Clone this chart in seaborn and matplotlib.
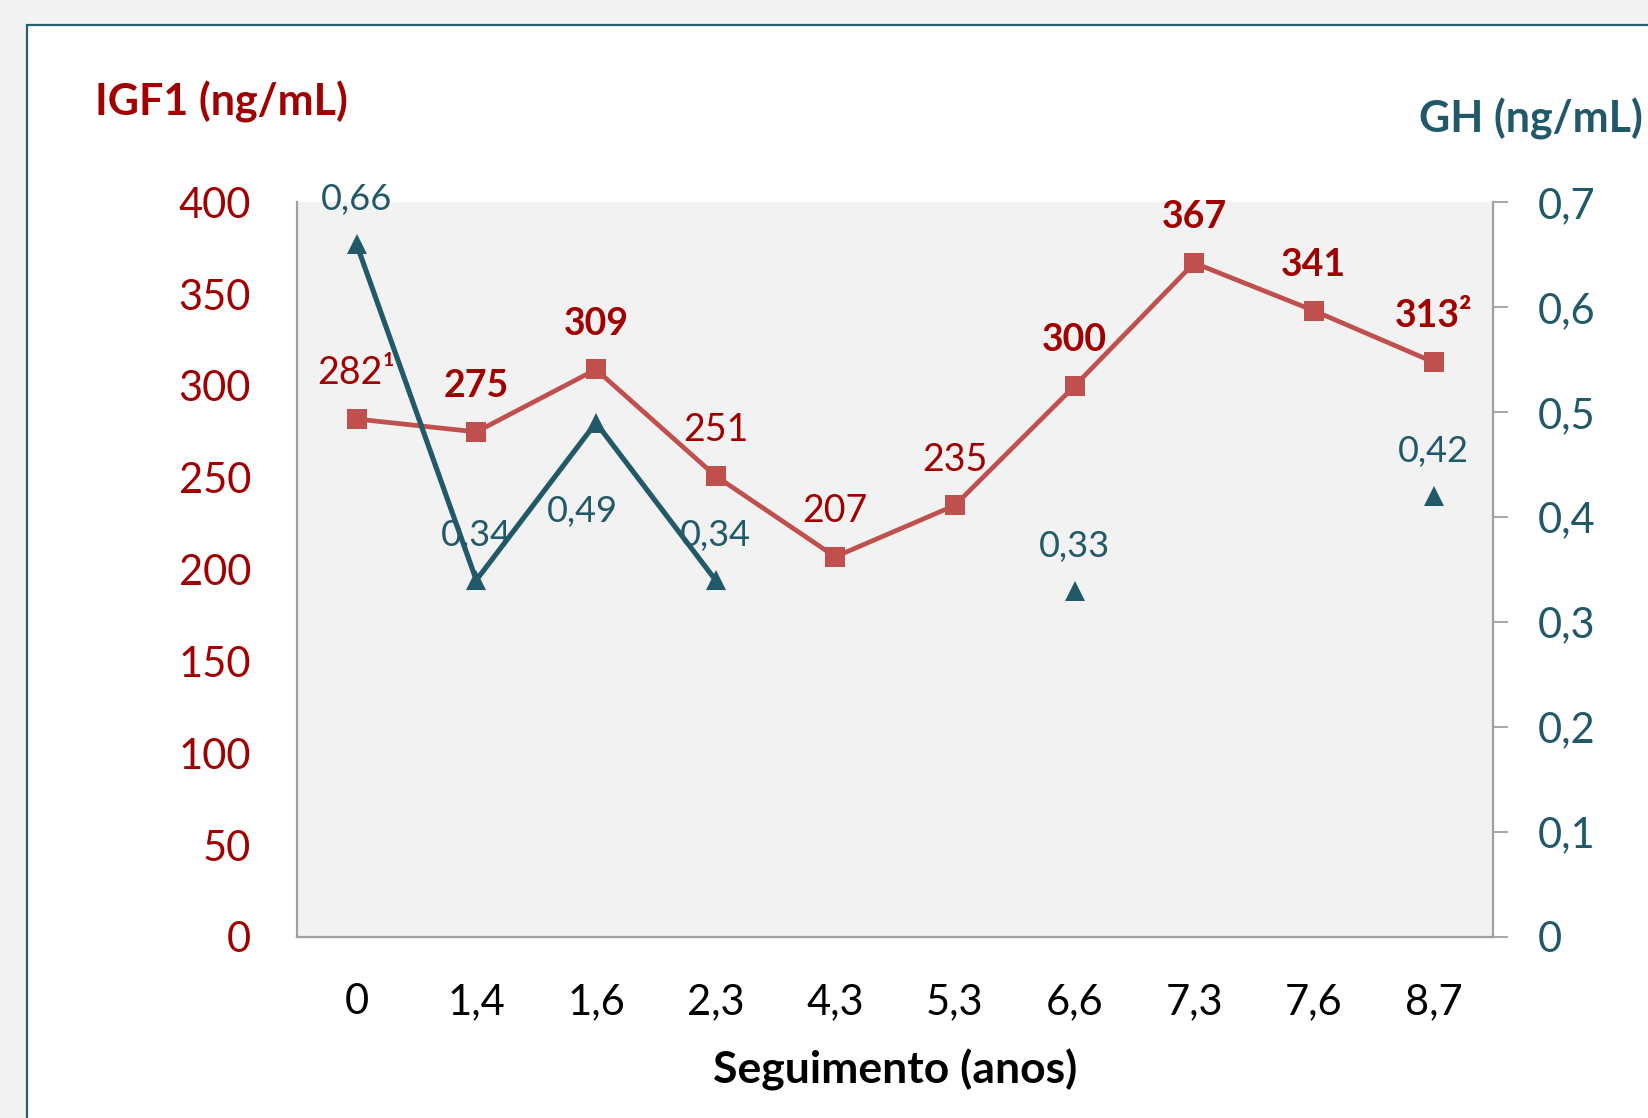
import numpy as np
import pandas as pd
import matplotlib
matplotlib.use('Agg')
import matplotlib.pyplot as plt
from matplotlib.patches import Rectangle
import seaborn as sns

# dados
seguimento = ['0', '1,4', '1,6', '2,3', '4,3', '5,3', '6,6', '7,3', '7,6', '8,7']
igf1 = [282, 275, 309, 251, 207, 235, 300, 367, 341, 313]
gh = [0.66, 0.34, 0.49, 0.34, np.nan, np.nan, 0.33, np.nan, np.nan, 0.42]
igf1_rotulos = ['282¹', '275', '309', '251', '207', '235', '300', '367', '341', '313²']
igf1_negrito = [False, True, True, False, False, False, True, True, True, True]
gh_rotulos = ['0,66', '0,34', '0,49', '0,34', '', '', '0,33', '', '', '0,42']
gh_abaixo = [False, False, True, False, False, False, False, False, False, False]
igf1_ticks = [0, 50, 100, 150, 200, 250, 300, 350, 400]
gh_ticks = [0, 0.1, 0.2, 0.3, 0.4, 0.5, 0.6, 0.7]
gh_tick_rotulos = ['0', '0,1', '0,2', '0,3', '0,4', '0,5', '0,6', '0,7']

VERMELHO = '#c0504d'
VERMELHO_TXT = '#a00000'
AZUL = '#215968'
CINZA = '#a0a0a0'

sns.set_style('white')
plt.rcParams['font.family'] = ['Lato', 'DejaVu Sans']

df = pd.DataFrame({'Seguimento': seguimento, 'IGF1': igf1, 'GH': gh})

fig = plt.figure(figsize=(16.49, 11.18), dpi=100, facecolor='#f2f2f2')
fig.patches.append(Rectangle((27 / 1649, -0.05), 1.1, 1 - 25 / 1118 + 0.05,
                             transform=fig.transFigure, facecolor='white',
                             edgecolor='#2a5f6e', linewidth=1.6, zorder=-10))

ax = fig.add_axes([0.180, 0.162, 0.7256, 0.657])
ax.set_facecolor('#f2f2f2')
ax2 = ax.twinx()

sns.lineplot(data=df, x='Seguimento', y='IGF1', ax=ax, sort=False, color=VERMELHO,
             linewidth=3.4, marker='s', markersize=14, markeredgewidth=0, zorder=3)
ax2.plot(df['Seguimento'], df['GH'], color=AZUL, linewidth=3.7, marker='^',
         markersize=15, markeredgewidth=0, zorder=3)

ax.set_xlim(-0.5, 9.5)
ax.set_ylim(0, 400)
ax2.set_ylim(0, 0.7)
ax.set_yticks(igf1_ticks)
ax2.set_yticks(gh_ticks)
ax2.set_yticklabels(gh_tick_rotulos)

ax.tick_params(axis='y', length=0, pad=33, labelsize=30, labelcolor=VERMELHO_TXT)
ax.tick_params(axis='x', length=0, pad=33, labelsize=30, labelcolor='black')
ax2.tick_params(axis='y', length=11, width=1.3, color=CINZA, pad=21, labelsize=30,
                labelcolor=AZUL, direction='out')

for a in (ax, ax2):
    a.spines['top'].set_visible(False)
    for s in ('left', 'bottom', 'right'):
        a.spines[s].set_color(CINZA)
        a.spines[s].set_linewidth(1.6)
ax2.spines['left'].set_visible(False)
ax2.spines['bottom'].set_visible(False)
ax.spines['right'].set_visible(False)

ax.set_xlabel('Seguimento (anos)', fontsize=32, fontweight='bold', labelpad=20,
              color='black')
ax.set_ylabel('')
ax2.set_ylabel('')

for i, (v, t, b) in enumerate(zip(igf1, igf1_rotulos, igf1_negrito)):
    ax.annotate(t, (i, v), xytext=(0, 33), textcoords='offset points', ha='center',
                va='center', fontsize=27, color=VERMELHO_TXT,
                fontweight='bold' if b else 'normal', zorder=5)
for i, (v, t, abaixo) in enumerate(zip(gh, gh_rotulos, gh_abaixo)):
    if t:
        off = (-10, -64) if abaixo else (0, 32)
        ax2.annotate(t, (i, v), xytext=off, textcoords='offset points', ha='center',
                     va='center', fontsize=26, color=AZUL, zorder=5)

fig.text(95 / 1649, 1 - 102 / 1118, 'IGF1 (ng/mL)', fontsize=31, fontweight='bold',
         color=VERMELHO_TXT, ha='left', va='center')
fig.text(1643 / 1649, 1 - 119 / 1118, 'GH (ng/mL)', fontsize=31, fontweight='bold',
         color=AZUL, ha='right', va='center')

fig.savefig('out.png', dpi=100, facecolor=fig.get_facecolor())
